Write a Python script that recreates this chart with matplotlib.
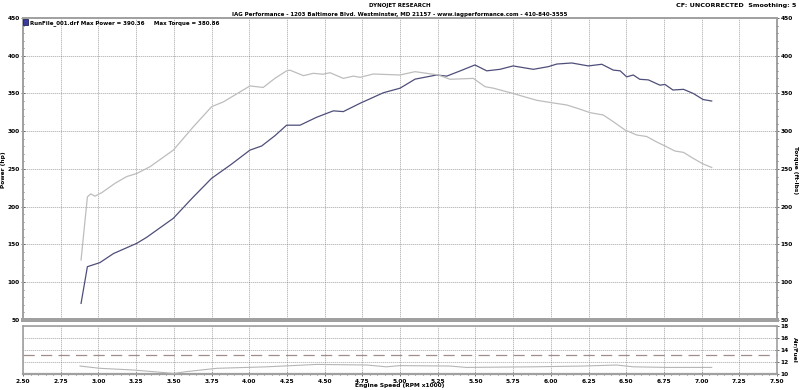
import numpy as np
import matplotlib
matplotlib.use("Agg")
import matplotlib.pyplot as plt
from matplotlib.ticker import MultipleLocator, FormatStrFormatter
from matplotlib.patches import Rectangle

# ── Data ──────────────────────────────────────────────────────────────────────
rpm_power = [2.885, 2.927, 3.01, 3.10, 3.254, 3.32, 3.497, 3.62, 3.751, 3.88,
             4.005, 4.083, 4.17, 4.248, 4.337, 4.447, 4.558, 4.624, 4.735,
             4.89, 5.0, 5.10, 5.243, 5.31, 5.40, 5.497, 5.575, 5.663, 5.75,
             5.884, 5.983, 6.04, 6.139, 6.249, 6.338, 6.414, 6.46, 6.503,
             6.547, 6.59, 6.647, 6.724, 6.757, 6.81, 6.88, 6.945, 7.01, 7.067]
power_hp = [72, 120.6, 126, 138, 151.5, 159.5, 184.7, 211, 237.7, 256,
            275, 280.5, 294, 308, 308, 318.5, 327, 326, 337,
            351, 357, 369, 374.5, 373, 380, 387.8, 380, 382, 386.5,
            382, 385.5, 389, 390.4, 386.5, 388.7, 381, 380, 372,
            374.5, 368.8, 368, 361, 362, 354.6, 355.5, 350, 342, 340]

rpm_torque = [2.885, 2.927, 2.949, 2.977, 3.022, 3.11, 3.188, 3.254, 3.342,
              3.497, 3.63, 3.751, 3.83, 4.005, 4.093, 4.17, 4.248, 4.27,
              4.36, 4.425, 4.49, 4.536, 4.624, 4.69, 4.735, 4.823, 5.0,
              5.10, 5.177, 5.254, 5.332, 5.486, 5.564, 5.62, 5.75, 5.906,
              6.005, 6.105, 6.182, 6.26, 6.348, 6.414, 6.492, 6.57, 6.636,
              6.70, 6.757, 6.823, 6.88, 6.945, 7.011, 7.067]
torque_ftlb = [129.5, 213, 217, 214, 218.6, 231, 240, 244, 253,
               275, 306, 332.5, 339, 360, 358, 370, 380, 380.9,
               373.6, 376.7, 375.5, 377.5, 370, 373, 371.4, 375.8, 374.5,
               378.9, 376.7, 374.5, 368.8, 370, 359, 357, 350, 341,
               337.8, 334.8, 330, 324.6, 321.5, 312.7, 301.7, 295, 293,
               286, 280.5, 273.8, 272, 264, 256.6, 252]

rpm_afr = [2.878, 3.01, 3.23, 3.50, 3.585, 3.785, 4.116, 4.45, 4.78, 4.91,
           5.0, 5.33, 5.44, 5.88, 6.215, 6.437, 6.547, 6.77, 7.067]
afr = [11.33, 10.95, 10.67, 10.1, 10.4, 10.95, 11.2, 11.6, 11.5, 11.2,
       11.4, 11.33, 11.1, 11.2, 11.33, 11.5, 11.2, 11.1, 11.1]
AFR_TARGET = 13.1

HEADER_1 = "DYNOJET RESEARCH"
HEADER_2 = ("IAG Performance - 1203 Baltimore Blvd. Westminster, MD 21157 - "
            "www.iagperformance.com - 410-840-3555")
HEADER_R = "CF: UNCORRECTED  Smoothing: 5"
LEGEND = "RunFile_001.drf Max Power = 390.36     Max Torque = 380.86"

# ── Styling ───────────────────────────────────────────────────────────────────
FONT = dict(family="DejaVu Sans", fontweight="bold")
FS = 4.0         # header / legend text
FS_TICK = 4.2    # tick labels and axis titles
FRAME = "#a0a0a0"
GRID = "#6a6a6a"
GRID_LS = (0, (0.8, 1.6))
POWER_C = "#4e4e7a"
TORQUE_C = "#bdbdbd"
TICK = dict(width=0.6, color="#555555", direction="inout")

fig = plt.figure(figsize=(8, 3.9), dpi=100)
fig.patch.set_facecolor("white")

ax = fig.add_axes([0.02875, 0.1795, 0.9425, 0.7744])
ax2 = ax.twinx()
axl = fig.add_axes([0.02875, 0.041, 0.9425, 0.123])

for a in (ax, ax2, axl):
    for sp in a.spines.values():
        sp.set_color(FRAME)
        sp.set_linewidth(1.2)
ax.spines["bottom"].set_linewidth(2.8)
ax2.spines["bottom"].set_linewidth(2.8)
axl.spines["bottom"].set_linewidth(1.6)

# main plot
ax.plot(rpm_power, power_hp, color=POWER_C, lw=0.9, zorder=3)
ax2.plot(rpm_torque, torque_ftlb, color=TORQUE_C, lw=0.9, zorder=3)

for a in (ax, ax2):
    a.set_xlim(2.5, 7.5)
    a.set_ylim(50, 450)
    a.yaxis.set_major_locator(MultipleLocator(50))
    a.yaxis.set_minor_locator(MultipleLocator(10))
    a.tick_params(axis="y", which="major", length=3, pad=1,
                  labelsize=FS_TICK, **TICK)
    a.tick_params(axis="y", which="minor", length=2, **TICK)
    for lab in a.get_yticklabels():
        lab.set_fontweight("bold")
ax.xaxis.set_major_locator(MultipleLocator(0.25))
ax.tick_params(axis="x", which="both", bottom=False, labelbottom=False)

ax.grid(True, which="major", color=GRID, linestyle=GRID_LS, lw=0.6)
ax.set_axisbelow(True)

# lower A/F plot
axl.plot(rpm_afr, afr, color="#b5b5b5", lw=0.8, zorder=3)
axl.axhline(AFR_TARGET, color="#a08e8e", lw=0.9, linestyle=(0, (9, 5)))
axl.set_xlim(2.5, 7.5)
axl.set_ylim(10, 18)
axl.xaxis.set_major_locator(MultipleLocator(0.25))
axl.xaxis.set_minor_locator(MultipleLocator(0.05))
axl.xaxis.set_major_formatter(FormatStrFormatter("%.2f"))
axl.yaxis.set_major_locator(MultipleLocator(2))
axl.yaxis.tick_right()
axl.tick_params(axis="x", which="major", length=3, pad=2,
                labelsize=FS_TICK, **TICK)
axl.tick_params(axis="x", which="minor", length=2, **TICK)
axl.tick_params(axis="y", which="major", length=3, pad=1,
                labelsize=FS_TICK, **TICK)
for lab in axl.get_xticklabels() + axl.get_yticklabels():
    lab.set_fontweight("bold")
axl.grid(True, which="major", color=GRID, linestyle=GRID_LS, lw=0.6)
axl.set_axisbelow(True)

# axis titles
fig.text(0.005, 0.565, "Power (hp)", rotation=90, ha="center", va="center",
         fontsize=FS_TICK, **FONT)
fig.text(0.994, 0.565, "Torque (ft-lbs)", rotation=270, ha="center",
         va="center", fontsize=FS_TICK, **FONT)
fig.text(0.994, 0.103, "Air/Fuel", rotation=270, ha="center", va="center",
         fontsize=FS_TICK, **FONT)
fig.text(0.5, 0.004, "Engine Speed (RPM x1000)", ha="center", va="bottom",
         fontsize=FS_TICK, **FONT)

# header texts
fig.text(0.5, 0.992, HEADER_1, ha="center", va="top", fontsize=FS, **FONT)
fig.text(0.5, 0.970, HEADER_2, ha="center", va="top", fontsize=FS, **FONT)
fig.text(0.996, 0.992, HEADER_R, ha="right", va="top", fontsize=4.6, **FONT)

# legend marker in the corner of the plot
fig.patches.append(Rectangle((0.0285, 0.935), 0.0065, 0.015,
                             transform=fig.transFigure, facecolor="#3a3aa0",
                             edgecolor="#222255", lw=0.6))
fig.text(0.037, 0.942, LEGEND, ha="left", va="center", fontsize=FS, **FONT)

fig.savefig("out.png", dpi=100, facecolor="white")
